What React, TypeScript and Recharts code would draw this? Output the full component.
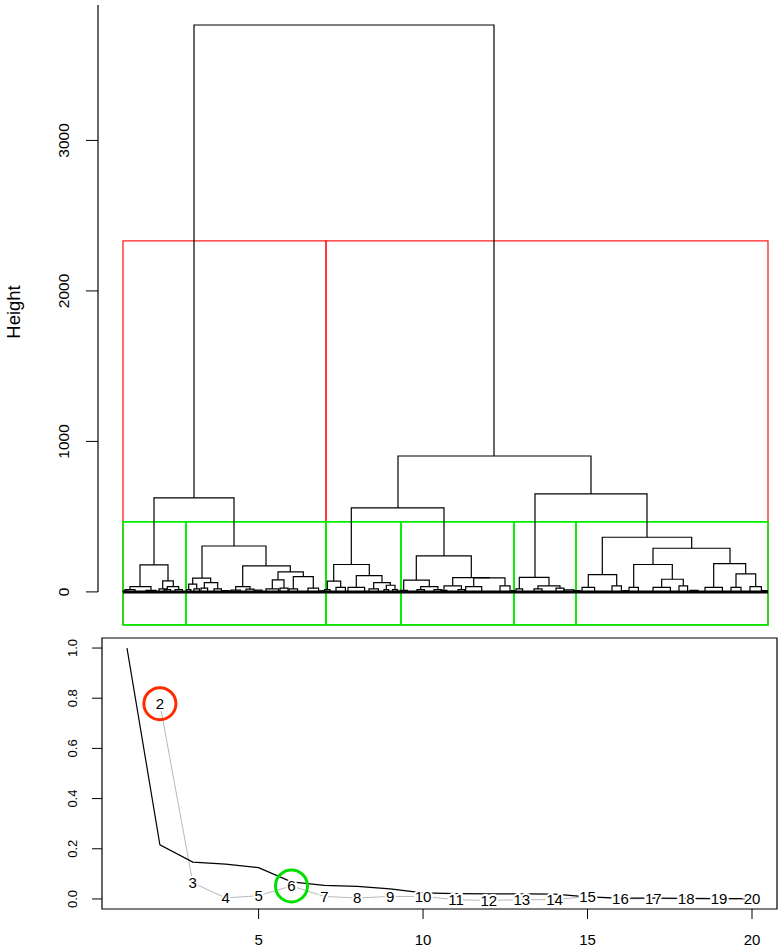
import {
  LabelList,
  Line,
  LineChart,
  ReferenceArea,
  ReferenceDot,
  ReferenceLine,
  XAxis,
  YAxis,
} from "recharts";

const FONT = '"Liberation Sans", Arial, Helvetica, sans-serif';

// ─── Dendrogram (x = leaf order position, y = height) ────────
// [left x, right x, merge height, left child height, right child height]
type Merge = [number, number, number, number, number];

const rootMerges: Merge[] = [
  [96, 396, 3767, 625, 903],
  [56, 136, 625, 180, 305],
  [300, 493, 903, 558, 651],
  [253.3, 346, 558, 182, 240],
  [437, 549, 651, 97, 363],
];

const leftMerges: Merge[] = [
  [42, 70, 180, 35, 73],
  [32, 53, 35, 15, 10],
  [64.7, 75.3, 73, 20, 35],
  [69.3, 80.7, 35, 15, 15],
  [104, 168, 305, 91, 173],
  [94.7, 112.7, 91, 51, 62],
  [90.7, 98.7, 51, 15, 20],
  [106.3, 119.7, 62, 25, 20],
  [144.7, 192.3, 173, 35, 133],
  [137.7, 152, 35, 12, 18],
  [180, 205.3, 133, 80, 102],
  [174.3, 186, 80, 20, 25],
  [195.3, 215.3, 102, 20, 25],
];

const rightMerges: Merge[] = [
  [235.7, 271.3, 182, 71, 108],
  [229.3, 242.7, 71, 15, 30],
  [258.3, 284, 108, 30, 62],
  [275.7, 292.3, 62, 20, 44],
  [288.3, 297, 44, 15, 15],
  [318.3, 373.3, 240, 78, 95],
  [305.7, 331.3, 78, 10, 35],
  [322.7, 339.9, 35, 15, 15],
  [354.7, 391.35, 95, 40, 93],
  [346, 363.4, 40, 10, 15],
  [375.7, 407, 93, 35, 40],
  [421.3, 451, 97, 20, 40],
  [440, 462, 40, 20, 25],
  [504.3, 593.7, 363, 115, 290],
  [490.3, 518.7, 115, 30, 40],
  [555, 632, 290, 182, 188],
  [535.7, 574.3, 182, 30, 84],
  [563.7, 585.3, 84, 30, 40],
  [615.7, 647.7, 188, 30, 120],
  [638, 657.7, 120, 30, 35],
];

// [left x, right x, height] small merges whose children sit at ~0
const twigs: [number, number, number][] = [
  [25, 30, 6], [27, 37, 15], [48, 58, 10], [61, 68.4, 20], [66, 72.6, 15],
  [77, 84.4, 15], [88.5, 92.9, 15], [96, 101.4, 20], [103, 109.6, 25],
  [116, 123.4, 20], [124, 131, 9], [133, 142.4, 12], [148, 156, 18],
  [157, 164, 12], [168, 180.6, 20], [182, 190, 25], [191, 199.6, 20],
  [210, 220.6, 25], [222, 226, 7], [226.5, 232.1, 15], [238, 247.4, 30],
  [250, 266.6, 30], [271, 280.4, 20], [286, 290.6, 15], [294.5, 299.5, 15],
  [302, 309.4, 10], [319, 326.4, 15], [336, 343.8, 15], [343, 349, 10],
  [360, 366.8, 15], [367.7, 383.7, 35], [402, 412, 40], [413, 417, 8],
  [418, 424.6, 20], [436, 444, 20], [458, 466, 25], [466, 476, 14],
  [476, 482, 8], [484, 496.6, 30], [514, 523.4, 40], [525, 530, 9],
  [531, 540.4, 30], [555, 572.4, 30], [581, 589.6, 40], [592, 600, 10],
  [607, 624.4, 30], [633, 643, 30], [652, 663.4, 35], [664, 669, 9],
];

const leafSpan = [25, 670];
const redCut = 2332;
const greenCut = 465;
const cutFloor = -219;
const redBounds = [25, 228, 670];
const greenBounds = [25, 88, 228, 303, 416, 478, 670];
const heightTicks = [0, 1000, 2000, 3000];

// ─── Elbow plot ───────────────────────────────────────────────
const kValues = [1, 2, 3, 4, 5, 6, 7, 8, 9, 10, 11, 12, 13, 14, 15, 16, 17, 18, 19, 20];
const blackCurve = [
  1.0, 0.216, 0.147, 0.139, 0.125, 0.068, 0.054, 0.05, 0.04, 0.024,
  0.021, 0.02, 0.02, 0.019, 0.008, 0.003, 0.003, 0.002, 0.001, 0.001,
];
const grayCurve = [
  null, 0.778, 0.064, 0.004, 0.013, 0.052, 0.01, 0.004, 0.01, 0.01,
  -0.003, -0.006, -0.003, -0.003, 0.01, 0.0, 0.002, 0.0, 0.0, 0.0,
];
const highlighted = [
  { k: 2, color: "#ff2a00" },
  { k: 6, color: "#00e000" },
];
const kTicks = [5, 10, 15, 20];
const ratioTicks = [0, 0.2, 0.4, 0.6, 0.8, 1.0];

const elbowRows = kValues.map((k, i) => ({ k, black: blackCurve[i], gray: grayCurve[i] }));

const mergePath = ([x1, x2, h, h1, h2]: Merge) => [
  { x: x1, y: h1 },
  { x: x1, y: h },
  { x: x2, y: h },
  { x: x2, y: h2 },
];

const allMerges: Merge[] = [
  ...rootMerges,
  ...leftMerges,
  ...rightMerges,
  ...twigs.map(([a, b, h]) => [a, b, h, 0, 0] as Merge),
];

function RotTick({ x, y, payload, shift, size, digits }: any) {
  const v = Number(payload.value);
  return (
    <g transform={`translate(${x - shift},${y}) rotate(-90)`}>
      <text textAnchor="middle" dy="0.35em" fontSize={size} fontFamily={FONT} fill="#000">
        {digits ? v.toFixed(digits) : String(v)}
      </text>
    </g>
  );
}

function BottomTick({ x, y, payload }: any) {
  return (
    <text x={x} y={y + 19} dy="0.35em" textAnchor="middle" fontSize={15} fontFamily={FONT} fill="#000">
      {payload.value}
    </text>
  );
}

function GrayLabel({ x, y, value }: any) {
  if (value === null || value === undefined) return null;
  return (
    <text
      x={x}
      y={y}
      dy="0.35em"
      textAnchor="middle"
      fontSize={15}
      fontFamily={FONT}
      fill="#000"
      stroke="#fff"
      strokeWidth={4}
      paintOrder="stroke"
    >
      {value}
    </text>
  );
}

export default function App() {
  return (
    <div style={{ position: "absolute", left: 0, top: 0, width: 779, height: 949, background: "#fff" }}>
      <div style={{ position: "absolute", left: 0, top: 0 }}>
        <LineChart width={779} height={630} margin={{ top: 5, right: 3, bottom: 5, left: 0 }}>
          <XAxis dataKey="x" type="number" domain={[0, 678]} hide allowDataOverflow />
          <YAxis
            type="number"
            domain={[-220, 3900]}
            ticks={heightTicks}
            width={98}
            axisLine={false}
            tickSize={12}
            tickLine={{ stroke: "#000" }}
            tick={<RotTick shift={20} size={15.5} />}
            allowDataOverflow
            label={{
              content: ({ viewBox }: any) => (
                <text
                  transform={`translate(${viewBox.x + 14},${viewBox.y + viewBox.height / 2 - 3}) rotate(-90)`}
                  textAnchor="middle"
                  dy="0.35em"
                  fontSize={18.5}
                  fontFamily={FONT}
                  fill="#000"
                >
                  Height
                </text>
              ),
            }}
          />
          <ReferenceLine
            segment={[{ x: 0, y: 0 }, { x: 0, y: 3900 }]}
            stroke="#000"
            strokeWidth={1.2}
            ifOverflow="visible"
          />
          {redBounds.slice(1).map((b, i) => (
            <ReferenceArea
              key={`red-${i}`}
              x1={redBounds[i]}
              x2={b}
              y1={cutFloor}
              y2={redCut}
              fill="none"
              fillOpacity={0}
              stroke="#ff2020"
              strokeWidth={1.3}
              ifOverflow="visible"
            />
          ))}
          {greenBounds.slice(1).map((b, i) => (
            <ReferenceArea
              key={`green-${i}`}
              x1={greenBounds[i]}
              x2={b}
              y1={cutFloor}
              y2={greenCut}
              fill="none"
              fillOpacity={0}
              stroke="#00ee00"
              strokeWidth={1.6}
              ifOverflow="visible"
            />
          ))}
          <Line
            data={[{ x: leafSpan[0], y: 0 }, { x: leafSpan[1], y: 0 }]}
            dataKey="y"
            stroke="#000"
            strokeWidth={3}
            dot={false}
            isAnimationActive={false}
          />
          {allMerges.map((m, i) => (
            <Line
              key={`m-${i}`}
              data={mergePath(m)}
              dataKey="y"
              stroke="#000"
              strokeWidth={1.2}
              dot={false}
              isAnimationActive={false}
            />
          ))}
        </LineChart>
      </div>

      <div style={{ position: "absolute", left: 0, top: 630 }}>
        <LineChart width={779} height={319} data={elbowRows} margin={{ top: 8, right: 2, bottom: 0, left: 0 }}>
          <XAxis
            dataKey="k"
            type="number"
            domain={[0.24, 20.76]}
            ticks={kTicks}
            allowDataOverflow
            height={40}
            axisLine={false}
            tickSize={10}
            tickLine={{ stroke: "#000" }}
            tick={<BottomTick />}
          />
          <YAxis
            type="number"
            domain={[-0.04, 1.04]}
            ticks={ratioTicks}
            allowDataOverflow
            width={102}
            axisLine={false}
            tickSize={10}
            tickLine={{ stroke: "#000" }}
            tick={<RotTick shift={18} size={13} digits={1} />}
          />
          <ReferenceArea
            x1={0.24}
            x2={20.76}
            y1={-0.04}
            y2={1.04}
            fill="none"
            fillOpacity={0}
            stroke="#000"
            strokeWidth={1.2}
            ifOverflow="visible"
          />
          <Line
            dataKey="gray"
            stroke="#b8b8b8"
            strokeWidth={1}
            dot={false}
            connectNulls={false}
            isAnimationActive={false}
          >
            <LabelList dataKey="k" content={(p: any) => <GrayLabel {...p} value={grayCurve[p.index] === null ? null : p.value} />} />
          </Line>
          <Line dataKey="black" stroke="#000" strokeWidth={1.2} dot={false} isAnimationActive={false} />
          {highlighted.map((h) => (
            <ReferenceDot
              key={h.k}
              x={h.k}
              y={grayCurve[h.k - 1] as number}
              r={16}
              fill="none"
              stroke={h.color}
              strokeWidth={3}
              ifOverflow="visible"
            />
          ))}
        </LineChart>
      </div>
    </div>
  );
}
